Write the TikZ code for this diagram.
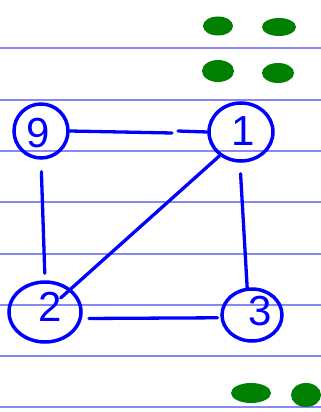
\documentclass[tikz,border=0pt]{standalone}
\usepackage{fontspec}
\setmainfont{Liberation Sans}
\usetikzlibrary{shapes.geometric}
\definecolor{rule}{RGB}{135,135,245}
\definecolor{ink}{RGB}{0,0,255}
\definecolor{blob}{RGB}{0,128,0}
\tikzset{
  ruleline/.style={draw=rule, line width=1.3pt},
  vtx/.style={ellipse, draw=ink, line width=3.5pt, inner sep=0pt},
  lbl/.style={text=ink, inner sep=0pt, font=\fontsize{42}{42}\selectfont},
  edge/.style={draw=ink, line width=3.3pt, line cap=round},
  dot/.style={fill=blob}
}
\begin{document}
\begin{tikzpicture}[x=1pt, y=-1pt]
\useasboundingbox (0,0) rectangle (321,412);
\foreach \yy in {48,100,151,202,254,305,356,407}
  \draw[ruleline] (0,\yy) -- (321,\yy);
% green blobs
\fill[dot] (218,26) ellipse (15pt and 9.5pt);
\fill[dot] (279,27) ellipse (17pt and 9pt);
\fill[dot] (218,71) ellipse (16pt and 11pt);
\fill[dot] (278,73) ellipse (16pt and 10pt);
\fill[dot] (251,393) ellipse (20pt and 10pt);
\fill[dot] (306,395) ellipse (15pt and 12pt);
% vertices
\node[vtx, minimum width=54pt, minimum height=54pt,
  label={[lbl, xshift=-3pt, yshift=-2pt]center:9}] (n9) at (41,131) {};
\node[vtx, minimum width=64pt, minimum height=58pt,
  label={[lbl, xshift=2pt, yshift=1pt]center:1}] (n1) at (241,132) {};
\node[vtx, minimum width=72pt, minimum height=60pt,
  label={[lbl, xshift=5pt, yshift=5pt]center:2}] (n2) at (45,312) {};
\node[vtx, minimum width=60pt, minimum height=52pt,
  label={[lbl, xshift=8pt, yshift=4pt]center:3}] (n3) at (252,315) {};
% gap coordinates on the 9-1 edge
\coordinate (g1) at (172,133);
\coordinate (g2) at (178,131);
% edges
\draw[edge] (n9.east) -- (g1);
\draw[edge] (g2) -- (n1.west);
\draw[edge, shorten <=12pt, shorten >=7pt] (n9.south) -- (n2.north);
\draw[edge, shorten <=11pt] (n1.268) -- (n3.100);
\draw[edge, shorten <=7pt, shorten >=3pt] (n2.-10) -- (n3.185);
\draw[edge, shorten >=21pt] (n1.228) -- (n2.center);
\end{tikzpicture}
\end{document}
